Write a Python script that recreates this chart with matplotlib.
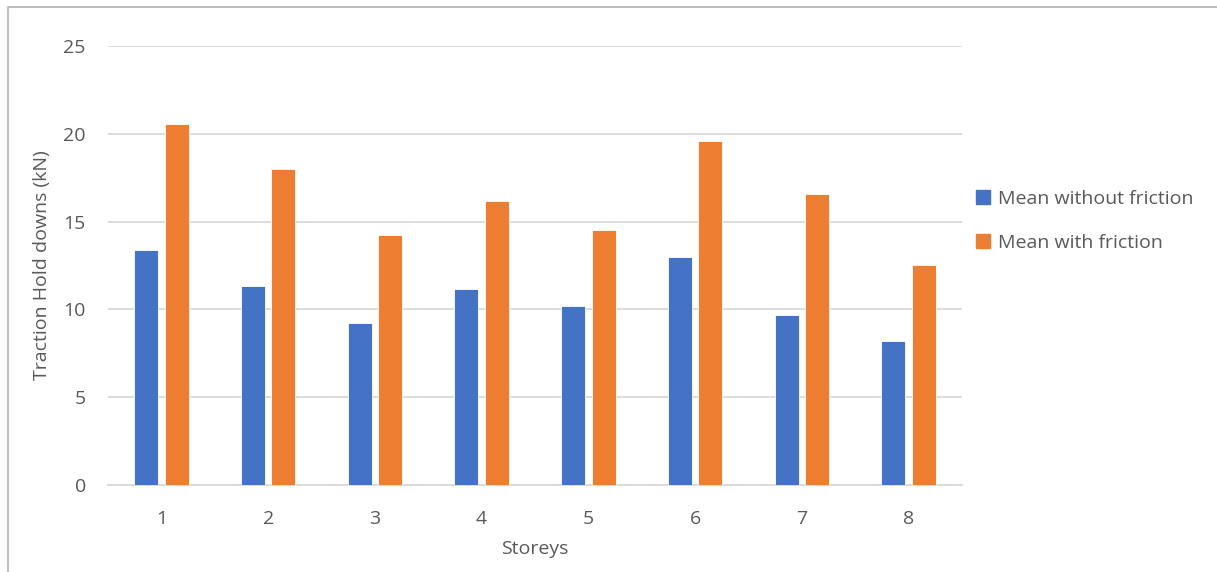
import matplotlib
matplotlib.use("Agg")
import matplotlib.pyplot as plt
from matplotlib.lines import Line2D
import numpy as np

storeys = ["1", "2", "3", "4", "5", "6", "7", "8"]
mean_without_friction = [13.38, 11.33, 9.23, 11.16, 10.19, 12.98, 9.68, 8.20]
mean_with_friction = [20.56, 18.00, 14.24, 16.17, 14.52, 19.59, 16.57, 12.53]
series_names = ["Mean without friction", "Mean with friction"]
yticks = [0, 5, 10, 15, 20, 25]

BLUE = "#4472C4"
ORANGE = "#ED7D31"
TEXT = "#595959"
GRID = "#D9D9D9"
FS = 14

plt.rcParams["font.family"] = ["Open Sans", "DejaVu Sans"]

W, H = 1217, 572
fig = plt.figure(figsize=(W / 100, H / 100), dpi=100)

# plot area in pixel coordinates
left, right, top, bottom = 108, 962, 46, 485
ax = fig.add_axes([left / W, 1 - bottom / H, (right - left) / W, (bottom - top) / H])

x = np.arange(len(storeys))
bw = 0.225
off = bw / 2 + 0.03
ax.bar(x - off, mean_without_friction, bw, color=BLUE, edgecolor="#FFFFFF",
       linewidth=0.6, zorder=3, label=series_names[0])
ax.bar(x + off, mean_with_friction, bw, color=ORANGE, edgecolor="#FFFFFF",
       linewidth=0.6, zorder=3, label=series_names[1])

ax.set_xlim(-0.5, len(storeys) - 0.5)
ax.set_ylim(0, 25)
ax.set_yticks(yticks)
ax.set_xticks(x)
ax.set_xticklabels(storeys)
ax.grid(axis="y", color=GRID, linewidth=1.3, zorder=0)
ax.set_axisbelow(True)
for s in ["top", "right", "left"]:
    ax.spines[s].set_visible(False)
ax.spines["bottom"].set_color(GRID)
ax.spines["bottom"].set_linewidth(1.3)
ax.tick_params(axis="both", length=0, labelsize=FS, colors=TEXT)
ax.tick_params(axis="y", pad=16)
ax.tick_params(axis="x", pad=18)

ax.set_xlabel("Storeys", fontsize=FS, color=TEXT, labelpad=9)
ax.set_ylabel("Traction Hold downs (kN)", fontsize=FS, color=TEXT, labelpad=9)

handles = [Line2D([], [], marker="s", linestyle="none", markersize=9.5,
                  markerfacecolor=c, markeredgecolor=c) for c in (BLUE, ORANGE)]
fig.legend(handles, series_names, loc="upper left",
           bbox_to_anchor=(959 / W, 1 - 174 / H), frameon=False,
           fontsize=FS, labelcolor=TEXT, handlelength=0.9,
           handletextpad=0.3, labelspacing=1.37, borderpad=0.3)

# chart frame (top and left edges visible)
fig.add_artist(Line2D([8 / W, 8 / W, 1], [0, 1 - 6.5 / H, 1 - 6.5 / H],
                      transform=fig.transFigure, color="#BFBFBF", linewidth=1.5))

fig.savefig("out.png", dpi=100, facecolor="white")
